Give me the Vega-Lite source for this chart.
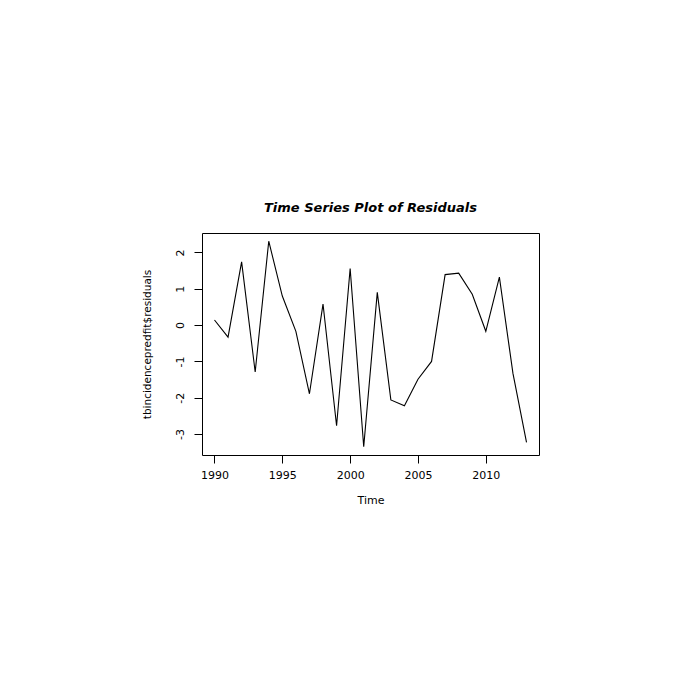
{
  "$schema": "https://vega.github.io/schema/vega-lite/v6.json",
  "autosize": "none",
  "width": 337,
  "height": 222,
  "padding": {"left": 202, "top": 233, "right": 150, "bottom": 238},
  "background": "white",
  "config": {
    "view": {"stroke": "black", "strokeWidth": 1},
    "font": "DejaVu Sans"
  },
  "title": {
    "text": "Time Series Plot of Residuals",
    "font": "DejaVu Sans",
    "fontSize": 13,
    "fontWeight": "bold",
    "fontStyle": "italic",
    "color": "black",
    "anchor": "middle",
    "offset": 18
  },
  "data": {
    "values": [
      {"year": 1990, "residual": 0.14},
      {"year": 1991, "residual": -0.33},
      {"year": 1992, "residual": 1.74},
      {"year": 1993, "residual": -1.29},
      {"year": 1994, "residual": 2.31},
      {"year": 1995, "residual": 0.80},
      {"year": 1996, "residual": -0.17},
      {"year": 1997, "residual": -1.89},
      {"year": 1998, "residual": 0.58},
      {"year": 1999, "residual": -2.77},
      {"year": 2000, "residual": 1.56},
      {"year": 2001, "residual": -3.35},
      {"year": 2002, "residual": 0.90},
      {"year": 2003, "residual": -2.06},
      {"year": 2004, "residual": -2.22},
      {"year": 2005, "residual": -1.49},
      {"year": 2006, "residual": -1.00},
      {"year": 2007, "residual": 1.39},
      {"year": 2008, "residual": 1.43},
      {"year": 2009, "residual": 0.85},
      {"year": 2010, "residual": -0.17},
      {"year": 2011, "residual": 1.32},
      {"year": 2012, "residual": -1.33},
      {"year": 2013, "residual": -3.23}
    ]
  },
  "mark": {"type": "line", "color": "black", "strokeWidth": 1.1},
  "encoding": {
    "x": {
      "field": "year",
      "type": "quantitative",
      "scale": {"domain": [1989.08, 2013.92], "nice": false, "zero": false},
      "axis": {
        "title": "Time",
        "values": [1990, 1995, 2000, 2005, 2010],
        "format": "d",
        "grid": false,
        "domain": false,
        "tickColor": "black",
        "tickSize": 8,
        "labelColor": "black",
        "labelFont": "DejaVu Sans",
        "labelFontSize": 11,
        "labelPadding": 6,
        "titleFont": "DejaVu Sans",
        "titleFontSize": 11,
        "titleFontWeight": "normal",
        "titleColor": "black",
        "titlePadding": 14
      }
    },
    "y": {
      "field": "residual",
      "type": "quantitative",
      "scale": {"domain": [-3.576, 2.536], "nice": false, "zero": false},
      "axis": {
        "title": "tbincidencepredfit$residuals",
        "values": [-3, -2, -1, 0, 1, 2],
        "labelExpr": "datum.value < 0 ? '-' + abs(datum.value) : '' + datum.value",
        "grid": false,
        "domain": false,
        "tickColor": "black",
        "tickSize": 8,
        "labelColor": "black",
        "labelFont": "DejaVu Sans",
        "labelFontSize": 11,
        "labelAngle": -90,
        "labelAlign": "center",
        "labelBaseline": "bottom",
        "labelPadding": 9,
        "titleFont": "DejaVu Sans",
        "titleFontSize": 10.5,
        "titleFontWeight": "normal",
        "titleColor": "black",
        "titlePadding": 22
      }
    }
  }
}
